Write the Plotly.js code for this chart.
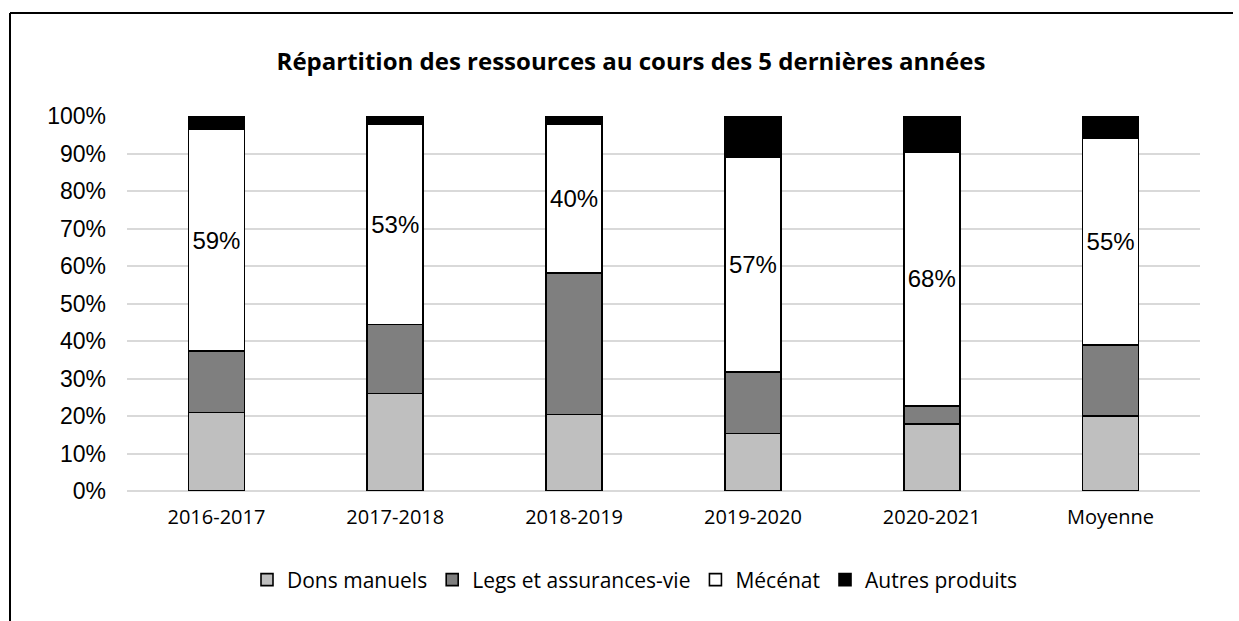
<!DOCTYPE html>
<html>
<head>
<meta charset="utf-8">
<script src="https://cdn.plot.ly/plotly-3.0.1.min.js"></script>
<style>html,body{margin:0;padding:0;background:#fff;}#chart{width:1239px;height:621px;}</style>
</head>
<body>
<div id="chart"></div>
<script>
const categories = ["2016-2017", "2017-2018", "2018-2019", "2019-2020", "2020-2021", "Moyenne"];
const donsManuels = [20.9, 26.0, 20.4, 15.3, 17.9, 20.0];
const legs = [16.4, 18.4, 37.8, 16.5, 4.8, 18.9];
const mecenat = [59.1, 53.3, 39.6, 57.2, 67.7, 55.3];
const autres = [3.6, 2.3, 2.2, 11.0, 9.6, 5.8];
const seriesNames = ["Dons manuels", "Legs et assurances-vie", "Mécénat", "Autres produits"];
const yTicks = [0, 10, 20, 30, 40, 50, 60, 70, 80, 90, 100];

const colors = ["#bfbfbf", "#7f7f7f", "#ffffff", "#000000"];
const seriesVals = [donsManuels, legs, mecenat, autres];

const traces = seriesVals.map((vals, i) => {
  const t = {
    type: "bar",
    name: seriesNames[i],
    x: categories,
    y: vals,
    marker: {color: colors[i], line: {color: "#000000", width: 1.6}},
    hoverinfo: "skip"
  };
  if (i === 2) {
    t.texttemplate = "%{y:.0f}%";
    t.textposition = "inside";
    t.insidetextanchor = "middle";
    t.constraintext = "none";
    t.textfont = {family: "Liberation Sans, Arial, sans-serif", size: 24, color: "#000000"};
  } else {
    t.textposition = "none";
  }
  return t;
});

const L = 127, R = 1200, T = 116, B = 491;
const px = v => (v - L) / (R - L);
const py = v => (B - v) / (B - T);

const layout = {
  width: 1239,
  height: 621,
  paper_bgcolor: "#ffffff",
  plot_bgcolor: "#ffffff",
  margin: {l: L, r: 1239 - R, t: T, b: 621 - B, pad: 0},
  barmode: "stack",
  bargap: 0.687,
  showlegend: true,
  title: {
    text: "<b>Répartition des ressources au cours des 5 dernières années</b>",
    font: {family: "Open Sans, sans-serif", size: 24, color: "#000000"},
    x: 631 / 1239,
    xanchor: "center",
    xref: "container",
    y: 1 - 62 / 621,
    yanchor: "middle",
    yref: "container"
  },
  xaxis: {
    type: "category",
    showgrid: false,
    zeroline: false,
    showline: false,
    ticks: "",
    ticklabelstandoff: 12,
    tickfont: {family: "Open Sans, sans-serif", size: 20, color: "#000000"}
  },
  yaxis: {
    range: [0, 100],
    tickvals: yTicks,
    ticktext: yTicks.map(v => v + "%"),
    showgrid: true,
    gridcolor: "#d9d9d9",
    gridwidth: 2,
    zeroline: true,
    zerolinecolor: "#d9d9d9",
    zerolinewidth: 2,
    showline: false,
    ticks: "",
    ticklabelstandoff: 20,
    tickfont: {family: "Liberation Sans, Arial, sans-serif", size: 23, color: "#000000"}
  },
  legend: {
    orientation: "h",
    x: px(635),
    xanchor: "center",
    y: py(580),
    yanchor: "middle",
    traceorder: "normal",
    itemwidth: 30,
    font: {family: "Open Sans, sans-serif", size: 21, color: "#000000"},
    bgcolor: "rgba(0,0,0,0)"
  },
  shapes: [
    {type: "line", xref: "paper", yref: "paper", x0: px(10), x1: px(1233), y0: py(13), y1: py(13), line: {color: "#000000", width: 2}},
    {type: "line", xref: "paper", yref: "paper", x0: px(10), x1: px(10), y0: py(13), y1: py(640), line: {color: "#000000", width: 2}}
  ]
};

Plotly.newPlot("chart", traces, layout, {displayModeBar: false, staticPlot: true});
</script>
</body>
</html>
